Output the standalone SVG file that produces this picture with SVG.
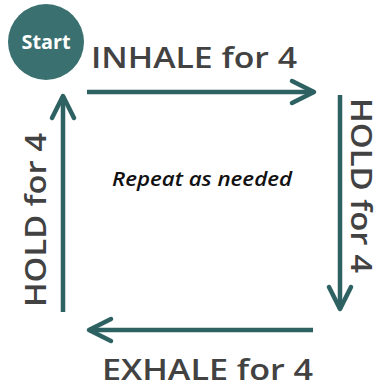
<svg xmlns="http://www.w3.org/2000/svg" width="380" height="387" viewBox="0 0 380 387">
  <style>
    .lbl { font-family: "Open Sans", "Liberation Sans", sans-serif; font-weight: 600; font-size: 28px; fill: #424242; }
    .conn { fill: none; stroke: #2d6162; stroke-width: 4.5; }
  </style>
  <defs>
    <marker id="ah" viewBox="-26 -15 30 30" refX="0" refY="0" markerWidth="30" markerHeight="30" markerUnits="userSpaceOnUse" orient="auto">
      <path d="M-22,-11 L0,0 L-22,11" fill="none" stroke="#2d6162" stroke-width="4.5" stroke-linecap="round" stroke-linejoin="round"/>
    </marker>
  </defs>
  <rect width="380" height="387" fill="#ffffff"/>
  <g id="connectors">
    <path class="conn" d="M87,92 H314" marker-end="url(#ah)"/>
    <path class="conn" d="M340,95 V309" marker-end="url(#ah)"/>
    <path class="conn" d="M313,330 H89" marker-end="url(#ah)"/>
    <path class="conn" d="M63,312 V96" marker-end="url(#ah)"/>
  </g>
  <g id="start">
    <circle cx="46" cy="42" r="38" fill="#3a7070"/>
    <text x="46" y="49" text-anchor="middle" font-family="'Open Sans', 'Liberation Sans', sans-serif" font-weight="700" font-size="19" fill="#ffffff" textLength="49" lengthAdjust="spacingAndGlyphs">Start</text>
  </g>
  <g id="inhale">
    <text class="lbl" x="91" y="68" textLength="206" lengthAdjust="spacingAndGlyphs">INHALE for 4</text>
  </g>
  <g id="hold-right">
    <text class="lbl" transform="translate(351,185.5) rotate(90)" text-anchor="middle" textLength="175" lengthAdjust="spacingAndGlyphs">HOLD for 4</text>
  </g>
  <g id="exhale">
    <text class="lbl" x="102" y="380" textLength="211" lengthAdjust="spacingAndGlyphs">EXHALE for 4</text>
  </g>
  <g id="hold-left">
    <text class="lbl" transform="translate(46,220) rotate(-90)" text-anchor="middle" textLength="174" lengthAdjust="spacingAndGlyphs">HOLD for 4</text>
  </g>
  <g id="repeat">
    <text x="202" y="186" text-anchor="middle" font-family="'Open Sans', Lato, sans-serif" font-style="italic" font-weight="600" font-size="19" fill="#111111" textLength="180" lengthAdjust="spacingAndGlyphs">Repeat as needed</text>
  </g>
</svg>
